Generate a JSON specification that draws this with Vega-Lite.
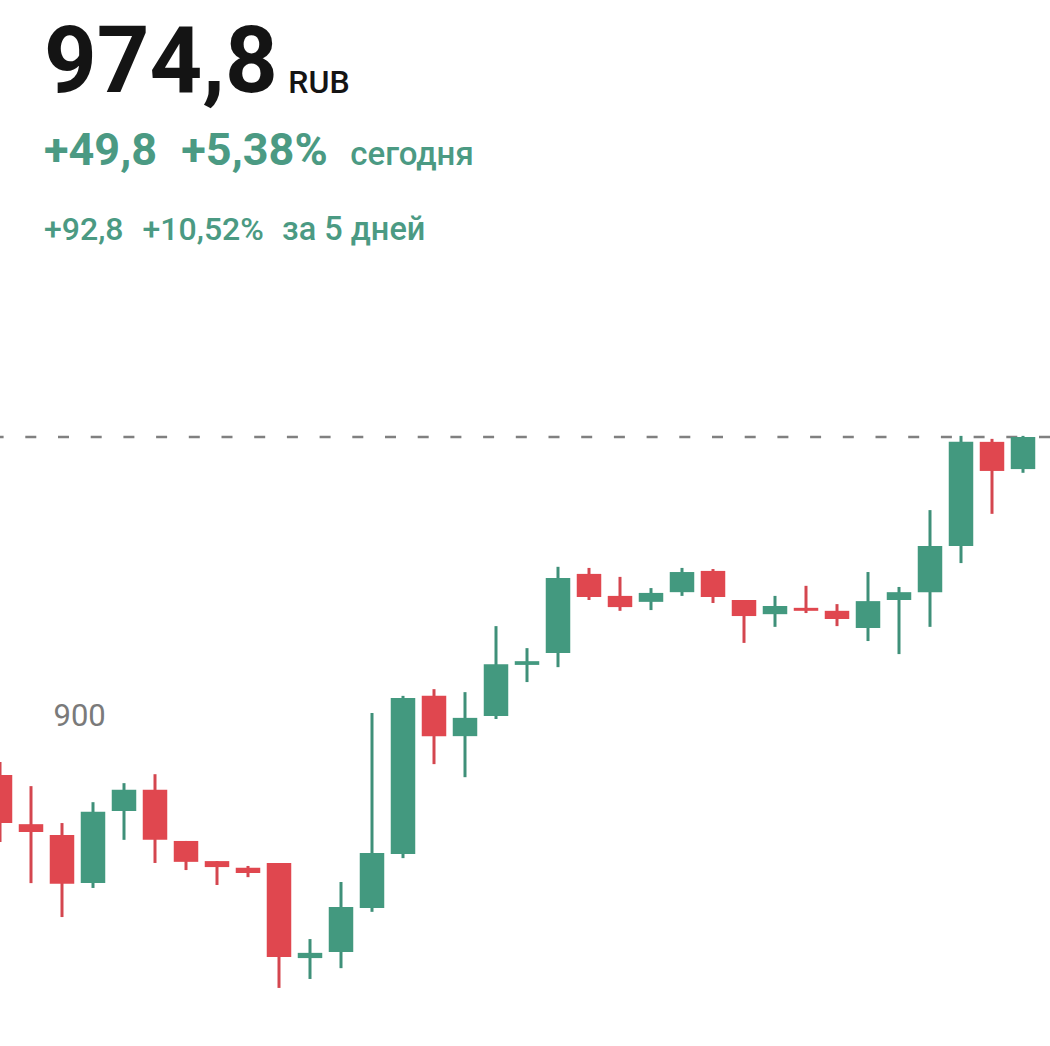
{
  "$schema": "https://vega.github.io/schema/vega-lite/v6.json",
  "width": 1050,
  "height": 1046,
  "autosize": {"type": "fit", "contains": "padding"},
  "padding": 0,
  "background": "white",
  "config": {"view": {"stroke": null}, "font": "Roboto"},
  "datasets": {
    "candles": [
      {"i": 0, "open": 884.2, "close": 871.3, "high": 887.7, "low": 866.2},
      {"i": 1, "open": 871.0, "close": 868.9, "high": 881.2, "low": 855.2},
      {"i": 2, "open": 868.1, "close": 855.0, "high": 871.3, "low": 846.1},
      {"i": 3, "open": 855.2, "close": 874.3, "high": 876.9, "low": 853.9},
      {"i": 4, "open": 874.5, "close": 880.2, "high": 882.0, "low": 866.8},
      {"i": 5, "open": 880.2, "close": 866.8, "high": 884.4, "low": 860.6},
      {"i": 6, "open": 866.5, "close": 860.9, "high": 866.5, "low": 858.7},
      {"i": 7, "open": 861.1, "close": 859.5, "high": 861.1, "low": 854.7},
      {"i": 8, "open": 859.3, "close": 857.9, "high": 859.8, "low": 856.8},
      {"i": 9, "open": 860.6, "close": 835.4, "high": 860.6, "low": 827.1},
      {"i": 10, "open": 835.1, "close": 836.5, "high": 840.2, "low": 829.5},
      {"i": 11, "open": 836.7, "close": 848.8, "high": 855.5, "low": 832.4},
      {"i": 12, "open": 848.5, "close": 863.3, "high": 900.8, "low": 847.5},
      {"i": 13, "open": 863.0, "close": 904.8, "high": 905.4, "low": 861.9},
      {"i": 14, "open": 905.4, "close": 894.6, "high": 907.2, "low": 887.1},
      {"i": 15, "open": 894.6, "close": 899.5, "high": 906.4, "low": 883.6},
      {"i": 16, "open": 900.0, "close": 913.9, "high": 924.1, "low": 899.2},
      {"i": 17, "open": 913.7, "close": 914.7, "high": 918.2, "low": 909.1},
      {"i": 18, "open": 916.9, "close": 937.0, "high": 940.0, "low": 913.1},
      {"i": 19, "open": 938.1, "close": 931.9, "high": 939.7, "low": 931.1},
      {"i": 20, "open": 932.2, "close": 929.2, "high": 937.3, "low": 928.2},
      {"i": 21, "open": 930.6, "close": 933.0, "high": 934.3, "low": 928.4},
      {"i": 22, "open": 933.2, "close": 938.6, "high": 939.7, "low": 932.2},
      {"i": 23, "open": 938.9, "close": 931.9, "high": 939.4, "low": 930.3},
      {"i": 24, "open": 931.1, "close": 926.8, "high": 931.1, "low": 919.6},
      {"i": 25, "open": 927.3, "close": 929.5, "high": 932.2, "low": 923.9},
      {"i": 26, "open": 929.0, "close": 928.2, "high": 934.9, "low": 927.6},
      {"i": 27, "open": 928.2, "close": 926.0, "high": 930.0, "low": 924.1},
      {"i": 28, "open": 923.6, "close": 930.8, "high": 938.6, "low": 920.1},
      {"i": 29, "open": 931.1, "close": 933.2, "high": 934.6, "low": 916.6},
      {"i": 30, "open": 933.2, "close": 945.6, "high": 955.2, "low": 923.9},
      {"i": 31, "open": 945.6, "close": 973.5, "high": 975.1, "low": 941.0},
      {"i": 32, "open": 973.5, "close": 965.7, "high": 974.3, "low": 954.2},
      {"i": 33, "open": 966.2, "close": 974.8, "high": 975.1, "low": 965.2}
    ],
    "last": [{"p": 974.8}],
    "header": [
      {"t": "974,8", "k": "big"},
      {"t": "RUB", "k": "cur"},
      {"t": "+49,8", "k": "d1"},
      {"t": "+5,38%", "k": "d2"},
      {"t": "сегодня", "k": "d3"},
      {"t": "+92,8", "k": "w1"},
      {"t": "+10,52%", "k": "w2"},
      {"t": "за 5 дней", "k": "w3"}
    ]
  },
  "layer": [
    {
      "data": {"name": "last"},
      "mark": {"type": "rule", "color": "#808080", "strokeWidth": 2.5, "strokeDash": [11, 21.7], "clip": true},
      "encoding": {"y": {"field": "p", "type": "quantitative", "scale": {"domain": [811.53, 1091.96], "nice": false, "zero": false, "padding": 0},
        "axis": {"values": [900], "domain": false, "ticks": false, "tickSize": 0, "grid": false, "labelAlign": "left", "labelPadding": -53, "minExtent": 0, "maxExtent": 0, "labelFontSize": 31, "labelColor": "#7a7a7a", "labelFont": "Roboto", "labelBaseline": "middle", "title": null}}}
    },
    {
      "data": {"name": "candles"},
      "mark": {"type": "rule", "strokeWidth": 3, "clip": true},
      "encoding": {
        "x": {"field": "i", "type": "quantitative", "scale": {"domain": [0, 33.871], "nice": false, "zero": false, "padding": 0}, "axis": null},
        "y": {"field": "low", "type": "quantitative"},
        "y2": {"field": "high"},
        "color": {"condition": {"test": "datum.close >= datum.open", "value": "#3f9079"}, "value": "#d4464f"}
      }
    },
    {
      "data": {"name": "candles"},
      "mark": {"type": "bar", "size": 24.5, "clip": true},
      "encoding": {
        "x": {"field": "i", "type": "quantitative"},
        "y": {"field": "open", "type": "quantitative"},
        "y2": {"field": "close"},
        "color": {"condition": {"test": "datum.close >= datum.open", "value": "#43997f"}, "value": "#e0474f"}
      }
    },
    {
      "data": {"name": "header"},
      "transform": [{"filter": "datum.k == 'big'"}],
      "mark": {"type": "text", "align": "left", "baseline": "alphabetic", "font": "Roboto", "fontWeight": "bold", "fontSize": 92, "color": "#141414"},
      "encoding": {"x": {"datum": 1.42}, "y": {"datum": 1067.4}, "text": {"field": "t"}}
    },
    {
      "data": {"name": "header"},
      "transform": [{"filter": "datum.k == 'cur'"}],
      "mark": {"type": "text", "align": "left", "baseline": "alphabetic", "font": "Roboto", "fontWeight": 500, "fontSize": 32, "color": "#141414"},
      "encoding": {"x": {"datum": 9.3}, "y": {"datum": 1066.9}, "text": {"field": "t"}}
    },
    {
      "data": {"name": "header"},
      "transform": [{"filter": "datum.k == 'd1'"}],
      "mark": {"type": "text", "align": "left", "baseline": "alphabetic", "font": "Roboto", "fontWeight": "bold", "fontSize": 45, "color": "#4b9a83"},
      "encoding": {"x": {"datum": 1.42}, "y": {"datum": 1047.72}, "text": {"field": "t"}}
    },
    {
      "data": {"name": "header"},
      "transform": [{"filter": "datum.k == 'd2'"}],
      "mark": {"type": "text", "align": "left", "baseline": "alphabetic", "font": "Roboto", "fontWeight": "bold", "fontSize": 45, "color": "#4b9a83"},
      "encoding": {"x": {"datum": 5.85}, "y": {"datum": 1047.72}, "text": {"field": "t"}}
    },
    {
      "data": {"name": "header"},
      "transform": [{"filter": "datum.k == 'd3'"}],
      "mark": {"type": "text", "align": "left", "baseline": "alphabetic", "font": "Roboto", "fontWeight": 500, "fontSize": 33, "color": "#4b9a83"},
      "encoding": {"x": {"datum": 11.3}, "y": {"datum": 1047.72}, "text": {"field": "t"}}
    },
    {
      "data": {"name": "header"},
      "transform": [{"filter": "datum.k == 'w1'"}],
      "mark": {"type": "text", "align": "left", "baseline": "alphabetic", "font": "Roboto", "fontWeight": 500, "fontSize": 32, "color": "#4b9a83"},
      "encoding": {"x": {"datum": 1.42}, "y": {"datum": 1027.62}, "text": {"field": "t"}}
    },
    {
      "data": {"name": "header"},
      "transform": [{"filter": "datum.k == 'w2'"}],
      "mark": {"type": "text", "align": "left", "baseline": "alphabetic", "font": "Roboto", "fontWeight": 500, "fontSize": 32, "color": "#4b9a83"},
      "encoding": {"x": {"datum": 4.6}, "y": {"datum": 1027.62}, "text": {"field": "t"}}
    },
    {
      "data": {"name": "header"},
      "transform": [{"filter": "datum.k == 'w3'"}],
      "mark": {"type": "text", "align": "left", "baseline": "alphabetic", "font": "Roboto", "fontWeight": 500, "fontSize": 32.5, "color": "#4b9a83"},
      "encoding": {"x": {"datum": 9.1}, "y": {"datum": 1027.62}, "text": {"field": "t"}}
    }
  ]
}
